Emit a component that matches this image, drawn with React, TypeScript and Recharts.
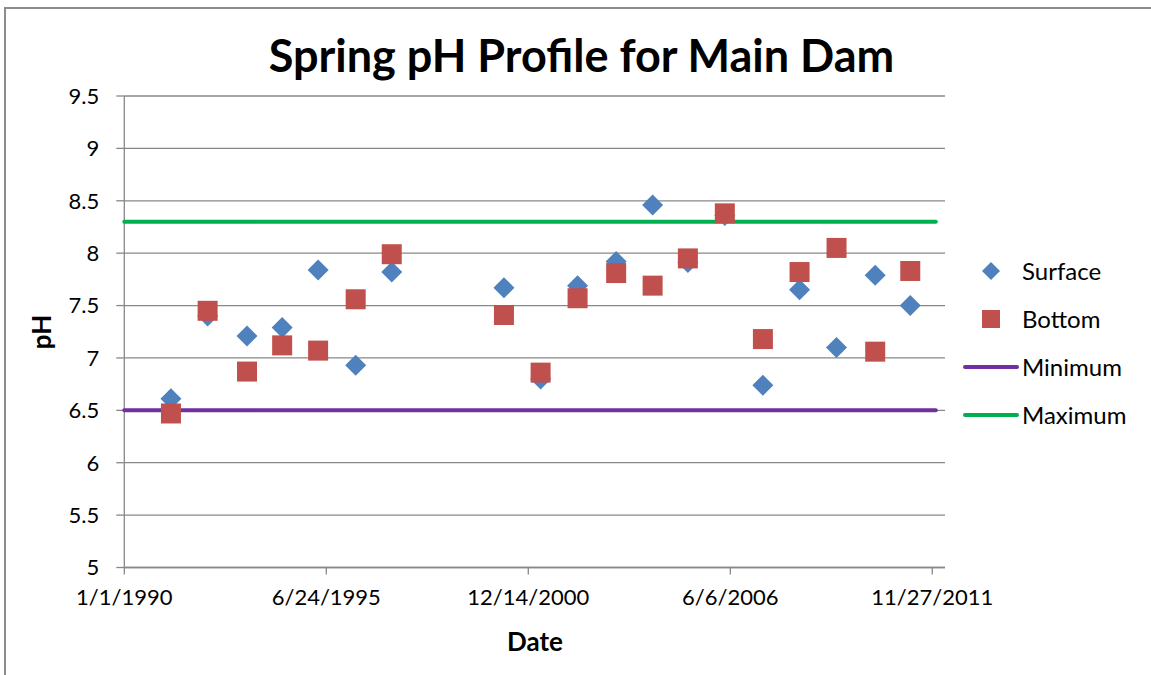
import React from "react";
import { ScatterChart, Scatter, XAxis, YAxis, CartesianGrid } from "recharts";

// ── sampling dates (spring) ──
const sampleDates = [
  "1991-04-08", "1992-04-05", "1993-04-30", "1994-04-13", "1995-04-04",
  "1996-04-10", "1997-04-02", "2000-04-17", "2001-04-15", "2002-04-16",
  "2003-05-03", "2004-04-28", "2005-04-12", "2006-04-13", "2007-04-25",
  "2008-04-22", "2009-04-23", "2010-05-11", "2011-04-23",
];

// ── pH values ──
const surfacePH = [
  6.61, 7.40, 7.21, 7.29, 7.84, 6.93, 7.82, 7.67, 6.80, 7.69,
  7.92, 8.46, 7.91, 8.36, 6.74, 7.65, 7.10, 7.79, 7.50,
];
const bottomPH = [
  6.47, 7.45, 6.87, 7.12, 7.07, 7.56, 7.99, 7.41, 6.86, 7.57,
  7.81, 7.69, 7.95, 8.38, 7.18, 7.82, 8.05, 7.06, 7.83,
];

// ── limit lines ──
const limitDates = ["1990-01-01", "2012-01-01"];
const minimumPH = [6.5, 6.5];
const maximumPH = [8.3, 8.3];

// ── axes ──
const xTickDates = ["1990-01-01", "1995-06-24", "2000-12-14", "2006-06-06", "2011-11-27"];
const xAxisEnd = "2012-04-01";
const yTicks = [5, 5.5, 6, 6.5, 7, 7.5, 8, 8.5, 9, 9.5];

const FONT = "Lato, 'Open Sans', sans-serif";
const GRID = "#888888";

// date string -> Excel style serial number
function toSerial(d: string) {
  const [y, m, day] = d.split("-").map(Number);
  return Date.UTC(y, m - 1, day) / 86400000 + 25569;
}

function formatSerial(v: number) {
  const dt = new Date((v - 25569) * 86400000);
  return `${dt.getUTCMonth() + 1}/${dt.getUTCDate()}/${dt.getUTCFullYear()}`;
}

const surfaceData = sampleDates.map((d, i) => ({ x: toSerial(d), y: surfacePH[i] }));
const bottomData = sampleDates.map((d, i) => ({ x: toSerial(d), y: bottomPH[i] }));
const minimumData = limitDates.map((d, i) => ({ x: toSerial(d), y: minimumPH[i] }));
const maximumData = limitDates.map((d, i) => ({ x: toSerial(d), y: maximumPH[i] }));
const xTicks = xTickDates.map(toSerial);

// eslint-disable-next-line @typescript-eslint/no-explicit-any
function DiamondShape(props: any) {
  const { cx, cy } = props;
  const r = 10.5;
  return (
    <polygon
      points={`${cx},${cy - r} ${cx + r},${cy} ${cx},${cy + r} ${cx - r},${cy}`}
      fill="#4F81BD"
    />
  );
}

// eslint-disable-next-line @typescript-eslint/no-explicit-any
function SquareShape(props: any) {
  const { cx, cy } = props;
  return <rect x={cx - 10} y={cy - 10} width={20} height={20} fill="#C0504D" />;
}

function NoShape() {
  return <g />;
}

const legendItems = [
  { label: "Surface", kind: "diamond", color: "#4F81BD" },
  { label: "Bottom", kind: "square", color: "#C0504D" },
  { label: "Minimum", kind: "line", color: "#7030A0" },
  { label: "Maximum", kind: "line", color: "#00B050" },
];

function ChartLegend() {
  return (
    <div style={{ position: "absolute", left: 963, top: 247, fontFamily: FONT, fontSize: 24, color: "#000" }}>
      {legendItems.map((item) => (
        <div key={item.label} style={{ display: "flex", alignItems: "center", height: 48 }}>
          <svg width={59} height={24} style={{ display: "block" }}>
            {item.kind === "diamond" && <polygon points="28,3 37,12 28,21 19,12" fill={item.color} />}
            {item.kind === "square" && <rect x={19} y={3} width={18} height={18} fill={item.color} />}
            {item.kind === "line" && (
              <line x1={2} y1={12} x2={54} y2={12} stroke={item.color} strokeWidth={4} strokeLinecap="round" />
            )}
          </svg>
          <span style={{ lineHeight: 1 }}>{item.label}</span>
        </div>
      ))}
    </div>
  );
}

export default function App() {
  return (
    <div
      style={{
        position: "absolute", left: 0, top: 0, width: 1151, height: 675,
        overflow: "hidden", background: "#fff", fontFamily: FONT,
      }}
    >
      {/* chart frame */}
      <div
        style={{
          position: "absolute", left: 4, top: 7, width: 1200, height: 700,
          borderTop: "2px solid #8c8c8c", borderLeft: "2px solid #8c8c8c",
        }}
      />

      <div
        style={{
          position: "absolute", left: 0, width: 1163, top: 33, textAlign: "center",
          fontSize: 45, fontWeight: 700, lineHeight: 1, color: "#000",
        }}
      >
        Spring pH Profile for Main Dam
      </div>

      <div style={{ position: "absolute", left: 0, top: 0 }}>
        <ScatterChart width={1151} height={675} margin={{ top: 96, right: 206, bottom: 0, left: 0 }}>
          <CartesianGrid vertical={false} stroke={GRID} strokeWidth={1.3} />
          <XAxis
            dataKey="x"
            type="number"
            domain={[toSerial(limitDates[0]), toSerial(xAxisEnd)]}
            ticks={xTicks}
            tickFormatter={formatSerial}
            height={107.5}
            tickSize={7}
            tickMargin={15}
            stroke={GRID}
            strokeWidth={1.3}
            tick={{ fill: "#000", fontSize: 22, fontFamily: FONT }}
          />
          <YAxis
            dataKey="y"
            type="number"
            domain={[5, 9.5]}
            ticks={yTicks}
            width={124.3}
            tickSize={8}
            tickMargin={17}
            stroke={GRID}
            strokeWidth={1.3}
            tick={{ fill: "#000", fontSize: 22, fontFamily: FONT }}
          />
          <Scatter
            name="Minimum"
            data={minimumData}
            line={{ stroke: "#7030A0", strokeWidth: 4, strokeLinecap: "round" }}
            shape={NoShape}
            isAnimationActive={false}
          />
          <Scatter
            name="Maximum"
            data={maximumData}
            line={{ stroke: "#00B050", strokeWidth: 4, strokeLinecap: "round" }}
            shape={NoShape}
            isAnimationActive={false}
          />
          <Scatter name="Surface" data={surfaceData} shape={DiamondShape} isAnimationActive={false} />
          <Scatter name="Bottom" data={bottomData} shape={SquareShape} isAnimationActive={false} />
        </ScatterChart>
      </div>

      <ChartLegend />

      <div
        style={{
          position: "absolute", left: 41, top: 332, transform: "translate(-50%, -50%) rotate(-90deg)",
          fontSize: 26, fontWeight: 700, lineHeight: 1, color: "#000",
        }}
      >
        pH
      </div>
      <div
        style={{
          position: "absolute", left: 535, top: 641, transform: "translate(-50%, -50%)",
          fontSize: 26, fontWeight: 700, lineHeight: 1, color: "#000",
        }}
      >
        Date
      </div>
    </div>
  );
}
